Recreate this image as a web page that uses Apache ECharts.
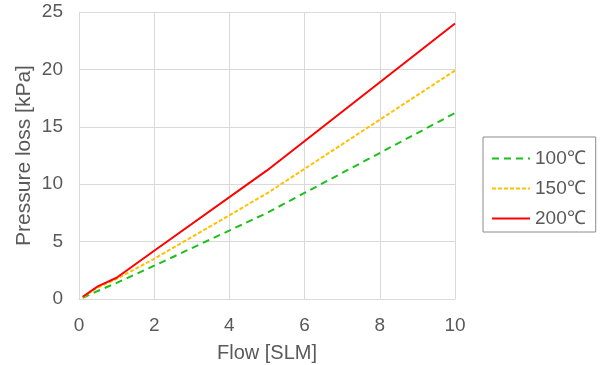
<!DOCTYPE html>
<html>
<head>
<meta charset="utf-8">
<script src="https://cdn.jsdelivr.net/npm/echarts@6/dist/echarts.min.js"></script>
<style>
  html, body { margin: 0; padding: 0; background: #fff; }
  #chart { width: 614px; height: 365px; }
</style>
</head>
<body>
<div id="chart"></div>
<script>
// flow [SLM]
const flow = [0.1, 0.5, 1, 2, 5, 10];
// pressure loss [kPa] per temperature
const loss100 = [0.1, 0.7, 1.4, 2.9, 7.5, 16.2];
const loss150 = [0.15, 1.0, 1.75, 3.5, 9.2, 19.9];
const loss200 = [0.2, 1.1, 1.85, 4.2, 11.2, 24.0];
const seriesNames = ["100℃", "150℃", "200℃"];

const font = "'Liberation Sans', Arial, sans-serif";
const textColor = "#595959";

function pairs(ys) {
  return flow.map((x, i) => [x, ys[i]]);
}

const chart = echarts.init(document.getElementById("chart"));
chart.setOption({
  animation: false,
  grid: { left: 79, right: 159, top: 12, bottom: 66, outerBoundsMode: "none" },
  legend: {
    orient: "vertical",
    left: 483,
    top: 137,
    padding: [12, 10, 4, 8],
    itemWidth: 38,
    itemHeight: 14,
    itemGap: 11,
    borderColor: "#8c8c8c",
    borderWidth: 1,
    itemStyle: { opacity: 0 }, // hide the marker, keep only the line
    textStyle: { fontSize: 19, color: textColor, fontFamily: font },
    data: seriesNames,
  },
  xAxis: {
    type: "value",
    min: 0,
    max: 10,
    interval: 2,
    name: "Flow [SLM]",
    nameLocation: "middle",
    nameGap: 44,
    nameMoveOverlap: false,
    nameTextStyle: { fontSize: 20, color: textColor, fontFamily: font },
    axisLine: { lineStyle: { color: "#d9d9d9" } },
    axisTick: { show: false },
    axisLabel: { fontSize: 19, color: textColor, fontFamily: font, margin: 17 },
    splitLine: { show: true, lineStyle: { color: "#d9d9d9" } },
  },
  yAxis: {
    type: "value",
    min: 0,
    max: 25,
    interval: 5,
    name: "Pressure loss [kPa]",
    nameLocation: "middle",
    nameGap: 44,
    nameMoveOverlap: false,
    nameTextStyle: { fontSize: 21, color: textColor, fontFamily: font },
    axisLine: { show: true, lineStyle: { color: "#d9d9d9" } },
    axisTick: { show: false },
    axisLabel: { fontSize: 19, color: textColor, fontFamily: font, margin: 16 },
    splitLine: { show: true, lineStyle: { color: "#d9d9d9" } },
  },
  series: [
    {
      name: seriesNames[0],
      type: "line",
      symbol: "none",
      data: pairs(loss100),
      lineStyle: { color: "#1cbf1c", width: 2, type: [7, 5] },
      itemStyle: { color: "#1cbf1c" },
    },
    {
      name: seriesNames[1],
      type: "line",
      symbol: "none",
      data: pairs(loss150),
      lineStyle: { color: "#ffc000", width: 2, type: [4, 2] },
      itemStyle: { color: "#ffc000" },
    },
    {
      name: seriesNames[2],
      type: "line",
      symbol: "none",
      data: pairs(loss200),
      lineStyle: { color: "#ff0000", width: 2 },
      itemStyle: { color: "#ff0000" },
    },
  ],
});
</script>
</body>
</html>
